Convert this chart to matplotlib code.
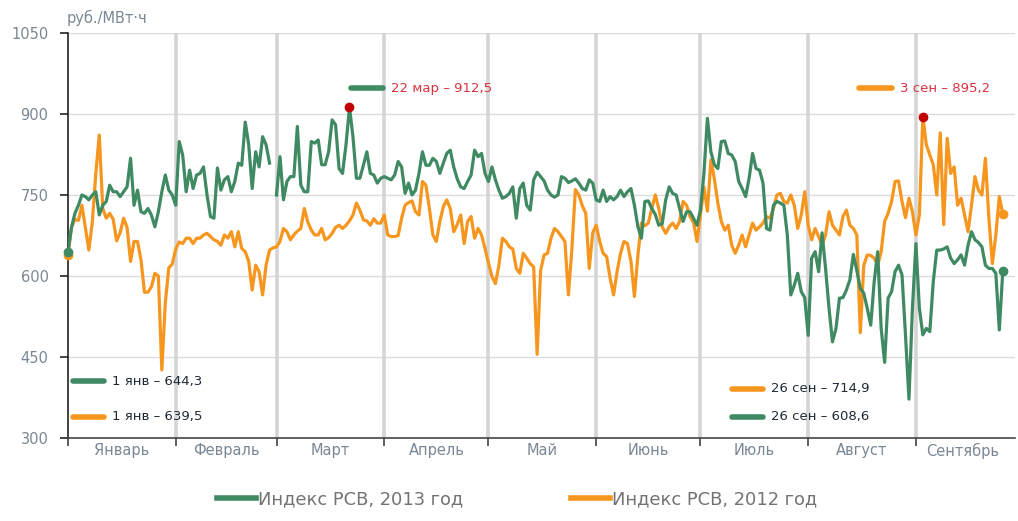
import numpy as np
import matplotlib
matplotlib.use('Agg')
import matplotlib.pyplot as plt
from matplotlib.lines import Line2D

# ── Данные: индекс РСВ по дням (день 0 = 1 янв, ось по календарю 2012 г.) ──
rsv_2013 = [
    644.3, 690, 716, 731, 750, 747, 741, 750, 756, 713, 731, 738, 768, 756, 756, 747,
    756, 765, 818, 731, 759, 719, 716, 725, 713, 691, 719, 756, 787, 759, 750,
    731, 849, 824, 756, 796, 762, 787, 790, 802, 750, 710, 707, 800, 759, 778,
    784, 756, 775, 809, 805, 885, 843, 762, 830, 802, 858, 843, 809, np.nan,
    750, 821, 741, 775, 784, 784, 877, 768, 756, 756, 849, 846, 852, 806, 806,
    830, 889, 880, 799, 790, 843, 912.5, 858, 781, 781, 805, 830, 790, 787, 772, 781,
    784, 781, 778, 787, 812, 802, 753, 772, 750, 759, 790, 830, 805, 805, 818,
    812, 790, 809, 827, 833, 802, 780, 765, 762, 775, 787, 833, 821, 827, 790,
    775, 802, 778, 759, 744, 747, 753, 765, 707, 762, 772, 731, 722, 778, 792,
    784, 776, 759, 750, 746, 750, 784, 781, 773, 776, 780, 772, 762, 759, 778, 772,
    741, 738, 759, 738, 747, 741, 747, 759, 747, 756, 762, 731, 691, 670, 738,
    739, 725, 714, 694, 697, 741, 765, 753, 750, 725, 701, 719, 719, 707, 694,
    722, 790, 892, 830, 806, 799, 849, 850, 827, 824, 812, 775, 762, 747, 781,
    827, 799, 796, 772, 688, 685, 731, 738, 735, 731, 676, 565, 583, 605, 571, 560,
    490, 633, 645, 608, 680, 614, 540, 478, 503, 559, 560, 574, 593, 640, 610,
    577, 568, 540, 509, 590, 645, 503, 440, 559, 571, 608, 620, 602, 491, 372,
    540, 660, 540, 491, 503, 497, 590, 648, 648, 650, 654, 633, 623, 630, 639,
    620, 657, 682, 667, 662, 654, 620, 614, 614, 605, 500, 608.6,
]

rsv_2012 = [
    639.5, 690, 705, 703, 731, 690, 648, 700, 790, 861, 725, 707, 716, 705, 665, 680,
    707, 690, 627, 664, 664, 630, 570, 570, 580, 605, 600, 426, 550, 615, 622,
    650, 663, 660, 670, 670, 660, 670, 670, 676, 679, 673, 667, 664, 657, 676,
    670, 682, 654, 682, 651, 645, 627, 574, 620, 608, 565, 620, 648, 652,
    654, 664, 688, 682, 667, 676, 683, 688, 725, 700, 685, 676, 676, 688, 667,
    671, 679, 690, 694, 688, 694, 702, 713, 735, 722, 704, 702, 694, 706, 698, 698,
    713, 676, 673, 673, 675, 707, 731, 736, 739, 719, 713, 775, 768, 725, 676,
    664, 701, 728, 741, 725, 682, 695, 713, 660, 701, 710, 670, 688, 676, 651,
    624, 599, 586, 620, 670, 664, 654, 650, 614, 605, 642, 633, 623, 617, 455,
    610, 639, 642, 670, 688, 682, 673, 664, 565, 650, 760, 750, 730, 716, 614, 680,
    694, 664, 642, 636, 596, 565, 608, 642, 664, 660, 627, 562, 639, 698, 693,
    698, 725, 750, 725, 691, 679, 691, 698, 688, 701, 738, 731, 710, 699, 664,
    713, 765, 720, 815, 780, 735, 701, 685, 694, 657, 642, 657, 676, 654, 676,
    698, 685, 691, 698, 710, 707, 725, 750, 753, 738, 735, 750, 731, 688, 713, 756,
    694, 667, 688, 673, 657, 676, 719, 694, 685, 676, 710, 722, 694, 688, 676,
    495, 620, 639, 638, 633, 620, 645, 701, 716, 738, 775, 776, 738, 708, 744,
    719, 676, 713, 895.2, 843, 824, 806, 750, 865, 695, 855, 790, 802, 731, 744,
    713, 682, 731, 784, 759, 750, 818, 707, 623, 676, 747, 714.9,
]

months = ['Январь', 'Февраль', 'Март', 'Апрель', 'Май', 'Июнь', 'Июль', 'Август', 'Сентябрь']
month_days = [31, 29, 31, 30, 31, 30, 31, 31, 27]   # сентябрь до конца оси
y_ticks = [300, 450, 600, 750, 900, 1050]

# ── Цвета ──
GREEN = '#3f8a63'
ORANGE = '#f7961e'
RED = '#c00000'
RED_TEXT = '#d9333f'
AXIS_TEXT = '#7a8794'
GRID = '#dcdcdc'
VGRID = '#d5d5d5'
DARK = '#1e2a36'

plt.rcParams['font.family'] = ['DejaVu Sans']

fig = plt.figure(figsize=(10.18, 5.21), dpi=100)
fig.patch.set_facecolor('white')
ax = fig.add_axes([0.0668, 0.1593, 0.9302, 0.7774])

days = np.arange(len(rsv_2013))
edges = np.concatenate([[0], np.cumsum(month_days)])

# сетка
for yv in y_ticks[1:]:
    ax.axhline(yv, color=GRID, lw=1.0, zorder=0)
for e in edges[1:-1]:
    ax.axvline(e, color=VGRID, lw=2.6, zorder=0)

ax.plot(days, rsv_2012, color=ORANGE, lw=2.3, solid_joinstyle='round', zorder=2)
ax.plot(days, rsv_2013, color=GREEN, lw=2.3, solid_joinstyle='round', zorder=3)

# точки начала/конца
ax.plot([days[0]], [rsv_2012[0]], 'o', color=ORANGE, ms=6, zorder=4, clip_on=False)
ax.plot([days[0]], [rsv_2013[0]], 'o', color=GREEN, ms=6, zorder=4, clip_on=False)
ax.plot([days[-1]], [rsv_2012[-1]], 'o', color=ORANGE, ms=6, zorder=4, clip_on=False)
ax.plot([days[-1]], [rsv_2013[-1]], 'o', color=GREEN, ms=6, zorder=4, clip_on=False)

# максимумы
i13 = int(np.nanargmax(rsv_2013))
i12 = int(np.nanargmax(rsv_2012))
ax.plot([days[i13]], [rsv_2013[i13]], 'o', color=RED, ms=6, zorder=5)
ax.plot([days[i12]], [rsv_2012[i12]], 'o', color=RED, ms=6, zorder=5)

ax.set_xlim(0, edges[-1] + 1.5)
ax.set_ylim(300, 1050)

# оси
for s in ['top', 'right']:
    ax.spines[s].set_visible(False)
ax.spines['left'].set_color('#222222')
ax.spines['bottom'].set_color('#444444')
ax.spines['left'].set_linewidth(1.2)
ax.spines['bottom'].set_linewidth(1.2)

ax.set_yticks(y_ticks)
ax.set_yticklabels([str(v) for v in y_ticks])
ax.tick_params(axis='y', length=6, width=1.2, color='#222222',
               labelsize=10.5, labelcolor=AXIS_TEXT, pad=8)

ax.set_xticks(edges[:-1])
ax.set_xticklabels([])
ax.tick_params(axis='x', length=6, width=1.2, color='#444444', direction='out')
centers = (edges[:-1] + edges[1:]) / 2
for c, m in zip(centers, months):
    ax.text(c, -0.012, m, transform=ax.get_xaxis_transform(),
            ha='center', va='top', fontsize=10.5, color=AXIS_TEXT)

fig.text(0.065, 0.965, 'руб./МВт·ч', fontsize=10.5, color=AXIS_TEXT,
         ha='left', va='center')

# подписи внутри графика
def tag(x0, x1, y, color, text, tcolor, gap=2.3):
    ax.plot([x0, x1], [y, y], color=color, lw=4, solid_capstyle='round',
            zorder=6, clip_on=False)
    ax.text(x1 + gap, y, text, color=tcolor, fontsize=9.5,
            ha='left', va='center', zorder=6)

def fmt(v):
    return f'{v:.1f}'.replace('.', ',')

tag(1.3, 10.3, 405, GREEN, f'1 янв – {fmt(rsv_2013[0])}', DARK)
tag(1.3, 10.3, 339, ORANGE, f'1 янв – {fmt(rsv_2012[0])}', DARK)
tag(191, 200, 391, ORANGE, f'26 сен – {fmt(rsv_2012[-1])}', DARK)
tag(191, 200, 339, GREEN, f'26 сен – {fmt(rsv_2013[-1])}', DARK)
tag(81.5, 90.7, 948, GREEN, f'22 мар – {fmt(rsv_2013[i13])}', RED_TEXT)
tag(227.7, 237.1, 948, ORANGE, f'3 сен – {fmt(rsv_2012[i12])}', RED_TEXT)

# легенда
handles = [Line2D([0], [0], color=GREEN, lw=4),
           Line2D([0], [0], color=ORANGE, lw=4)]
leg = fig.legend(handles, ['Индекс РСВ, 2013 год', 'Индекс РСВ, 2012 год'],
                 loc='center', bbox_to_anchor=(0.508, 0.042), ncol=2, frameon=False,
                 fontsize=12.9, handlelength=2.2, handletextpad=0.12, columnspacing=6.0)
for t in leg.get_texts():
    t.set_color('#737373')

fig.savefig('out.png', dpi=100, facecolor='white')
